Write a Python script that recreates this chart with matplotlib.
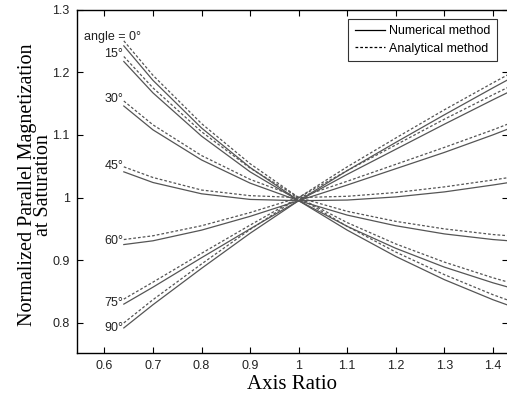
import numpy as np
import matplotlib
matplotlib.use('Agg')
import matplotlib.pyplot as plt

# axis ratio sample points
ratio = [0.64, 0.7, 0.8, 0.9, 1.0, 1.1, 1.2, 1.3, 1.4, 1.45]

angles = ['0', '15', '30', '45', '60', '75', '90']

# analytical method (dashed)
ana_0 = [1.250, 1.195, 1.118, 1.054, 1.000, 0.954, 0.913, 0.877, 0.845, 0.831]
ana_15 = [1.225, 1.175, 1.105, 1.047, 1.000, 0.960, 0.926, 0.897, 0.872, 0.861]
ana_30 = [1.154, 1.116, 1.067, 1.029, 1.000, 0.978, 0.962, 0.950, 0.941, 0.938]
ana_45 = [1.049, 1.032, 1.012, 1.003, 1.000, 1.002, 1.008, 1.017, 1.028, 1.034]
ana_60 = [0.933, 0.939, 0.955, 0.976, 1.000, 1.026, 1.053, 1.080, 1.108, 1.123]
ana_75 = [0.838, 0.865, 0.911, 0.956, 1.000, 1.043, 1.084, 1.125, 1.164, 1.183]
ana_90 = [0.800, 0.837, 0.894, 0.949, 1.000, 1.049, 1.095, 1.140, 1.183, 1.204]

# numerical method (solid)
num_0 = [1.242, 1.187, 1.111, 1.048, 0.995, 0.948, 0.906, 0.869, 0.837, 0.823]
num_15 = [1.217, 1.167, 1.098, 1.041, 0.995, 0.954, 0.919, 0.889, 0.864, 0.853]
num_30 = [1.146, 1.108, 1.060, 1.023, 0.995, 0.972, 0.955, 0.942, 0.933, 0.930]
num_45 = [1.041, 1.024, 1.006, 0.997, 0.995, 0.996, 1.001, 1.009, 1.020, 1.026]
num_60 = [0.925, 0.931, 0.948, 0.970, 0.995, 1.020, 1.046, 1.072, 1.100, 1.115]
num_75 = [0.830, 0.857, 0.904, 0.950, 0.995, 1.037, 1.077, 1.117, 1.156, 1.175]
num_90 = [0.792, 0.829, 0.887, 0.943, 0.995, 1.043, 1.088, 1.132, 1.175, 1.196]

ana = [ana_0, ana_15, ana_30, ana_45, ana_60, ana_75, ana_90]
num = [num_0, num_15, num_30, num_45, num_60, num_75, num_90]

fig = plt.figure(figsize=(5.07, 4.01), dpi=100)
ax = fig.add_axes([76.7/507, 1-353/401, (508-76.7)/507, (353-9.5)/401])

gray = '#555555'
for i in range(len(angles)):
    l1, = ax.plot(ratio, num[i], '-', color=gray, lw=0.9)
    l2, = ax.plot(ratio, ana[i], '--', color=gray, lw=0.9, dashes=(2.2, 1.6))

ax.set_xlim(0.543, 1.431)
ax.set_ylim(0.752, 1.3)
ax.set_xticks([0.6, 0.7, 0.8, 0.9, 1.0, 1.1, 1.2, 1.3, 1.4])
ax.set_xticklabels(['0.6', '0.7', '0.8', '0.9', '1', '1.1', '1.2', '1.3', '1.4'])
ax.set_yticks([0.8, 0.9, 1.0, 1.1, 1.2, 1.3])
ax.set_yticklabels(['0.8', '0.9', '1', '1.1', '1.2', '1.3'])
ax.tick_params(direction='in', length=4, width=0.8, top=True, right=True,
               labelsize=9, pad=5, colors='black', labelcolor='#222222')
for s in ax.spines.values():
    s.set_linewidth(1.0)

sans = 'Liberation Sans'
serif = 'Liberation Serif'
for lab in ax.get_xticklabels() + ax.get_yticklabels():
    lab.set_family(sans)

# angle labels
lab_y = [1.256, 1.229, 1.157, 1.051, 0.931, 0.832, 0.792]
for i in range(len(angles)):
    if i == 0:
        ax.text(0.676, lab_y[i], 'angle = 0°', ha='right', va='center',
                fontsize=9, family=sans, color='#222222')
    else:
        ax.text(0.639, lab_y[i], angles[i] + '°', ha='right', va='center',
                fontsize=9, family=sans, color='#222222')

ax.set_xlabel('Axis Ratio', family=serif, fontsize=15, labelpad=2)
ax.set_ylabel('Normalized Parallel Magnetization\nat Saturation', family=serif,
              fontsize=14.5, linespacing=0.8)
ax.yaxis.set_label_coords(-0.054, 0.49)

leg = ax.legend([l1, l2], ['Numerical method', 'Analytical method'],
                loc='upper right', bbox_to_anchor=(0.9738, 0.9724),
                prop={'family': sans, 'size': 9}, frameon=True, fancybox=False,
                handlelength=2.4, handletextpad=0.35, borderpad=0.5,
                labelspacing=0.45, borderaxespad=0)
leg.get_frame().set_edgecolor('black')
leg.get_frame().set_linewidth(0.8)
for h in leg.get_lines():
    h.set_color('black')

fig.savefig('out.png', dpi=100)
